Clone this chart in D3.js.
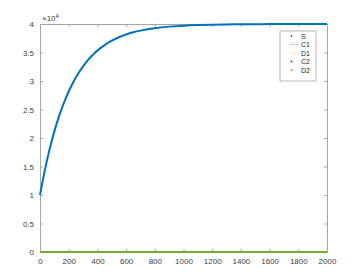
<!DOCTYPE html>
<html>
<head>
<meta charset="utf-8">
<script src="https://cdn.jsdelivr.net/npm/d3@7"></script>
<style>
  body { margin: 0; background: #fff; }
  text { font-family: "Liberation Sans", Arial, sans-serif; }
</style>
</head>
<body>
<script>
  // time steps
  let time = [0, 20, 40, 60, 80, 100, 120, 140, 160, 180, 200, 220, 240, 260, 280, 300, 320, 340, 360, 380, 400,
              450, 500, 550, 600, 650, 700, 750, 800, 900, 1000, 1100, 1200, 1300, 1400, 1500, 1600, 1800, 2000];
  let S = [10000, 12660, 15090, 17300, 19320, 21160, 22830, 24360, 25740, 27010, 28160, 29220, 30170, 31050, 31840,
           32570, 33230, 33830, 34380, 34880, 35330, 36300, 37070, 37680, 38160, 38540, 38840, 39080, 39270, 39540,
           39710, 39820, 39890, 39930, 39960, 39970, 39980, 39990, 40000];
  let lowTime = [0, 250, 500, 750, 1000, 1250, 1500, 1750, 2000];
  let C1 = [0, 0, 0, 0, 0, 0, 0, 0, 0];
  let D1 = [0, 0, 0, 0, 0, 0, 0, 0, 0];
  let C2 = [0, 0, 0, 0, 0, 0, 0, 0, 0];
  let D2 = [0, 0, 0, 0, 0, 0, 0, 0, 0];
  let xTicks = [0, 200, 400, 600, 800, 1000, 1200, 1400, 1600, 1800, 2000];
  let yTicks = [0, 5000, 10000, 15000, 20000, 25000, 30000, 35000, 40000];
  let names = ["S", "C1", "D1", "C2", "D2"];

  let colors = {"S": "#0072BD", "C1": "#D95319", "D1": "#EDB120", "C2": "#7E2F8E", "D2": "#77AC30"};
  let padding = {"top": 24, "bottom": 20, "left": 40, "right": 33},
    width = 360 - padding.left - padding.right,
    height = 272 - padding.top - padding.bottom;

  const svg = d3.select("body")
    .append("svg")
    .attr("width", 360)
    .attr("height", 272);

  let xscale = d3.scaleLinear().domain([0, 2000]).range([0, width]);
  let yscale = d3.scaleLinear().domain([0, 40000]).range([height, 0]);

  let g = svg.append("g")
    .attr("transform", "translate(" + padding.left + "," + padding.top + ")");

  // axes, box style with inward ticks
  let axisStyle = (sel) => {
    sel.select(".domain").attr("stroke", "#a6a6a6");
    sel.selectAll(".tick line").attr("stroke", "#a6a6a6");
    sel.selectAll(".tick text").attr("fill", "#404040").style("font-size", "8px");
  };

  g.append("g")
    .attr("transform", "translate(0," + height + ")")
    .call(d3.axisBottom(xscale).tickValues(xTicks).tickSizeInner(-3).tickSizeOuter(0).tickPadding(6)
      .tickFormat(d3.format("d")))
    .call(axisStyle);
  g.append("g")
    .call(d3.axisTop(xscale).tickValues(xTicks).tickSizeInner(-3).tickSizeOuter(0).tickFormat(""))
    .call(axisStyle);
  g.append("g")
    .call(d3.axisLeft(yscale).tickValues(yTicks).tickSizeInner(-3).tickSizeOuter(0).tickPadding(6)
      .tickFormat((d) => d3.format("")(d / 10000)))
    .call(axisStyle);
  g.append("g")
    .attr("transform", "translate(" + width + ",0)")
    .call(d3.axisRight(yscale).tickValues(yTicks).tickSizeInner(-3).tickSizeOuter(0).tickFormat(""))
    .call(axisStyle);

  svg.append("text")
    .attr("x", padding.left + 2)
    .attr("y", padding.top - 3)
    .attr("fill", "#404040")
    .style("font-size", "8px")
    .html("×10<tspan dy='-3' style='font-size:6px'>4</tspan>");

  // S series: dense markers drawn as a thick line
  let line = d3.line().x((d) => xscale(d[0])).y((d) => yscale(d[1])).curve(d3.curveMonotoneX);
  g.append("path")
    .datum(time.map((t, i) => [t, S[i]]))
    .attr("d", line)
    .attr("fill", "none")
    .attr("stroke", colors.S)
    .attr("stroke-width", 2);

  let low = {"C1": C1, "D1": D1, "C2": C2, "D2": D2};
  ["C1", "D1", "C2", "D2"].forEach((k) => {
    g.append("path")
      .datum(lowTime.map((t, i) => [t, low[k][i]]))
      .attr("d", line)
      .attr("fill", "none")
      .attr("stroke", colors[k])
      .attr("stroke-width", k == "D2" ? 2.2 : 1.5);
  });

  // legend
  let legend = svg.append("g").attr("transform", "translate(280,31)");
  legend.append("rect")
    .attr("width", 36)
    .attr("height", 50)
    .attr("fill", "#fff")
    .attr("stroke", "#a6a6a6")
    .attr("stroke-width", 0.8);
  let items = legend.selectAll(".item")
    .data(names)
    .enter()
    .append("g")
    .attr("transform", (d, i) => "translate(0," + (5 + i * 8.5) + ")");
  items.filter((d) => d == "C1" || d == "D1")
    .append("line")
    .attr("x1", 10).attr("x2", 19)
    .attr("y1", 0).attr("y2", 0)
    .attr("stroke", (d) => colors[d])
    .attr("stroke-opacity", 0.5)
    .attr("stroke-width", 0.8);
  items.filter((d) => !(d == "C1" || d == "D1"))
    .append("circle")
    .attr("cx", 11.5)
    .attr("cy", 0)
    .attr("r", 0.9)
    .attr("fill", (d) => colors[d]);
  items.append("text")
    .text((d) => d)
    .attr("x", 21)
    .attr("y", 2.5)
    .attr("fill", "#262626")
    .style("font-size", "7px");
</script>
</body>
</html>
